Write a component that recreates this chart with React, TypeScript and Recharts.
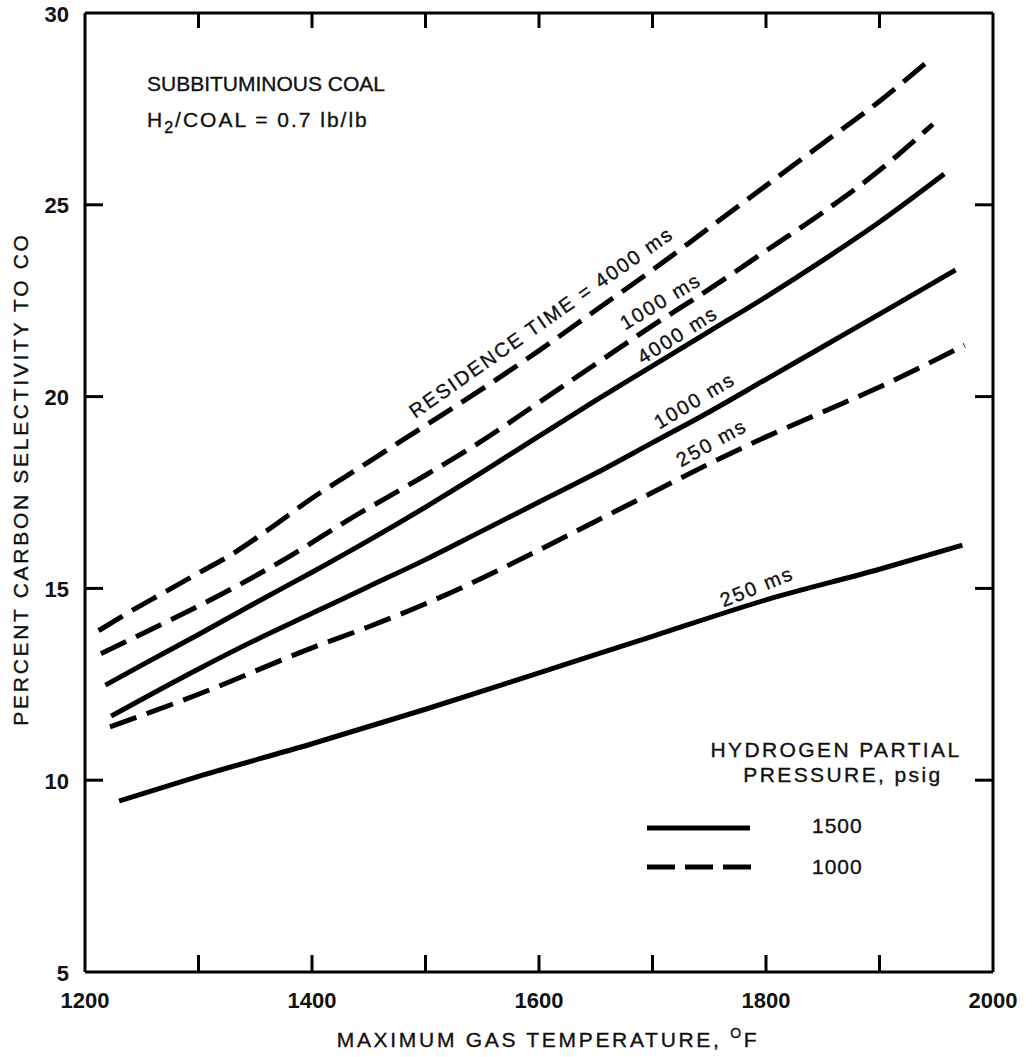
import React from "react";
import { LineChart, Line, XAxis, YAxis, ReferenceLine, ReferenceDot } from "recharts";

const W = 1032;
const H = 1057;
const PLOT = { left: 85, right: 993, top: 13, bottom: 972 };
const FONT = "'Liberation Sans', Arial, Helvetica, sans-serif";

const xTicks = [1200, 1300, 1400, 1500, 1600, 1700, 1800, 1900, 2000];
const xTickLabels = [1200, 1400, 1600, 1800, 2000];
const yTicks = [5, 10, 15, 20, 25, 30];

// 1000 psig, residence time 4000 ms (dashed)
const temps1000_4000 = [1212, 1240, 1270, 1300, 1330, 1360, 1400, 1450, 1500, 1550, 1600, 1650, 1700, 1750, 1800, 1850, 1900, 1941];
const sel1000_4000 = [13.9, 14.4, 14.9, 15.4, 15.9, 16.5, 17.35, 18.3, 19.25, 20.2, 21.2, 22.25, 23.3, 24.4, 25.5, 26.6, 27.7, 28.7];

// 1000 psig, 1000 ms (dashed)
const temps1000_1000 = [1214, 1270, 1330, 1381, 1430, 1500, 1550, 1600, 1650, 1700, 1750, 1800, 1850, 1900, 1947];
const sel1000_1000 = [13.3, 14.1, 15.0, 15.85, 16.75, 17.95, 18.85, 19.85, 20.85, 21.85, 22.8, 23.8, 24.8, 25.9, 27.1];

// 1500 psig, 4000 ms (solid)
const temps1500_4000 = [1218, 1250, 1300, 1350, 1400, 1450, 1500, 1550, 1600, 1650, 1700, 1750, 1800, 1850, 1900, 1957];
const sel1500_4000 = [12.48, 13.0, 13.8, 14.62, 15.42, 16.25, 17.12, 18.03, 18.97, 19.9, 20.8, 21.7, 22.6, 23.55, 24.55, 25.8];

// 1500 psig, 1000 ms (solid)
const temps1500_1000 = [1223, 1300, 1350, 1400, 1450, 1500, 1550, 1600, 1650, 1700, 1750, 1800, 1850, 1900, 1967];
const sel1500_1000 = [11.67, 12.9, 13.65, 14.35, 15.05, 15.75, 16.5, 17.25, 18.0, 18.8, 19.6, 20.45, 21.3, 22.15, 23.3];

// 1000 psig, 250 ms (dashed)
const temps1000_250 = [1222, 1300, 1400, 1450, 1500, 1550, 1600, 1650, 1700, 1750, 1800, 1850, 1900, 1975];
const sel1000_250 = [11.39, 12.24, 13.45, 14.0, 14.6, 15.27, 16.0, 16.75, 17.5, 18.25, 18.95, 19.6, 20.25, 21.34];

// 1500 psig, 250 ms (solid)
const temps1500_250 = [1230, 1300, 1400, 1500, 1600, 1700, 1800, 1900, 1973];
const sel1500_250 = [9.46, 10.1, 10.95, 11.85, 12.8, 13.75, 14.7, 15.5, 16.13];

const toPoints = (temps: number[], vals: number[]) => temps.map((t, i) => ({ t, v: vals[i] }));

const series = [
  { key: "p1000_4000", data: toPoints(temps1000_4000, sel1000_4000), dashed: true },
  { key: "p1000_1000", data: toPoints(temps1000_1000, sel1000_1000), dashed: true },
  { key: "p1500_4000", data: toPoints(temps1500_4000, sel1500_4000), dashed: false },
  { key: "p1500_1000", data: toPoints(temps1500_1000, sel1500_1000), dashed: false },
  { key: "p1000_250", data: toPoints(temps1000_250, sel1000_250), dashed: true },
  { key: "p1500_250", data: toPoints(temps1500_250, sel1500_250), dashed: false },
];

// curve annotations, anchored in data coordinates
const curveLabels = [
  { text: "RESIDENCE TIME = 4000 ms", t: 1602, v: 21.94, angle: -35 },
  { text: "1000 ms", t: 1707, v: 22.49, angle: -31 },
  { text: "4000 ms", t: 1722, v: 21.61, angle: -32 },
  { text: "1000 ms", t: 1737, v: 19.9, angle: -31 },
  { text: "250 ms", t: 1752, v: 18.8, angle: -29 },
  { text: "250 ms", t: 1792, v: 15.05, angle: -22 },
];

const DASH = "28 11";

function XTick(props: any) {
  const { x, payload } = props;
  const val = payload.value;
  const edge = val === 1200 || val === 2000;
  return (
    <g>
      {!edge && <line x1={x} x2={x} y1={PLOT.bottom} y2={PLOT.bottom - 17} stroke="#000" strokeWidth={3} />}
      {!edge && <line x1={x} x2={x} y1={PLOT.top} y2={PLOT.top + 15} stroke="#000" strokeWidth={3} />}
      {xTickLabels.includes(val) && (
        <text x={x} y={PLOT.bottom + 28} textAnchor="middle" dominantBaseline="central" fontSize={22} fontWeight="bold" fontFamily={FONT} fill="#111">
          {val}
        </text>
      )}
    </g>
  );
}

function YTick(props: any) {
  const { y, payload } = props;
  const val = payload.value;
  const edge = val === 5 || val === 30;
  return (
    <g>
      {!edge && <line x1={PLOT.left} x2={PLOT.left + 18} y1={y} y2={y} stroke="#000" strokeWidth={3} />}
      {!edge && <line x1={PLOT.right} x2={PLOT.right - 18} y1={y} y2={y} stroke="#000" strokeWidth={3} />}
      <text x={PLOT.left - 16} y={y + 1} textAnchor="end" dominantBaseline="central" fontSize={22} fontWeight="bold" fontFamily={FONT} fill="#111">
        {val}
      </text>
    </g>
  );
}

function makeCurveLabel(text: string, angle: number) {
  return (p: any) => {
    const vb = p.viewBox || {};
    const cx = (vb.x ?? 0) + (vb.width ?? 0) / 2;
    const cy = (vb.y ?? 0) + (vb.height ?? 0) / 2;
    return (
      <text
        x={cx}
        y={cy}
        transform={`rotate(${angle} ${cx} ${cy})`}
        textAnchor="middle"
        dominantBaseline="central"
        fontSize={20}
        letterSpacing={2}
        fontFamily={FONT}
        fill="#111"
        stroke="#111"
        strokeWidth={0.35}
      >
        {text}
      </text>
    );
  };
}

export default function App() {
  return (
    <div style={{ position: "absolute", left: 0, top: 0, width: W, height: H, background: "#fff" }}>
      <LineChart width={W} height={H} margin={{ top: PLOT.top, right: W - PLOT.right, bottom: 0, left: 0 }}>
        <XAxis
          type="number"
          dataKey="t"
          domain={[1200, 2000]}
          ticks={xTicks}
          allowDataOverflow
          height={H - PLOT.bottom}
          tickLine={false}
          tickSize={0}
          axisLine={{ stroke: "#000", strokeWidth: 3 }}
          tick={(p: any) => <XTick {...p} />}
          interval={0}
        />
        <YAxis
          type="number"
          domain={[5, 30]}
          ticks={yTicks}
          allowDataOverflow
          width={PLOT.left}
          tickLine={false}
          tickSize={0}
          axisLine={{ stroke: "#000", strokeWidth: 3 }}
          tick={(p: any) => <YTick {...p} />}
          interval={0}
        />
        <ReferenceLine y={30} stroke="#000" strokeWidth={3} />
        <ReferenceLine x={2000} stroke="#000" strokeWidth={3} />
        {series.map((s) => (
          <Line
            key={s.key}
            data={s.data}
            dataKey="v"
            type="monotone"
            stroke="#000"
            strokeWidth={5}
            strokeDasharray={s.dashed ? DASH : undefined}
            strokeLinecap="butt"
            dot={false}
            activeDot={false}
            isAnimationActive={false}
          />
        ))}
        {curveLabels.map((l, i) => (
          <ReferenceDot
            key={i}
            x={l.t}
            y={l.v}
            r={1}
            fill="none"
            stroke="none"
            label={makeCurveLabel(l.text, l.angle)}
          />
        ))}
      </LineChart>

      <svg
        width={W}
        height={H}
        style={{ position: "absolute", left: 0, top: 0, pointerEvents: "none" }}
        fontFamily={FONT}
        fill="#111"
        stroke="#111"
        strokeWidth={0.35}
      >
        <text x={147} y={91} fontSize={21} letterSpacing={0}>SUBBITUMINOUS COAL</text>
        <text x={147} y={127} fontSize={21} letterSpacing={2}>
          H<tspan fontSize={16} dy={6}>2</tspan>
          <tspan dy={-6}>/COAL = 0.7 lb/lb</tspan>
        </text>

        <text x={548} y={1047} textAnchor="middle" fontSize={21} letterSpacing={2.7}>
          MAXIMUM GAS TEMPERATURE, <tspan fontSize={14} dy={-9}>O</tspan>
          <tspan dy={9}>F</tspan>
        </text>
        <text transform="translate(28,479) rotate(-90)" textAnchor="middle" fontSize={21} letterSpacing={2.7}>
          PERCENT CARBON SELECTIVITY TO CO
        </text>

        <text x={836} y={757} textAnchor="middle" fontSize={21} letterSpacing={2.4}>HYDROGEN PARTIAL</text>
        <text x={843} y={782} textAnchor="middle" fontSize={21} letterSpacing={2.4}>PRESSURE, psig</text>
        <line x1={647} x2={750} y1={828} y2={828} stroke="#000" strokeWidth={5} />
        <line x1={647} x2={751} y1={867} y2={867} stroke="#000" strokeWidth={5} strokeDasharray="28 10" />
        <text x={812} y={833} fontSize={21} letterSpacing={1}>1500</text>
        <text x={812} y={874} fontSize={21} letterSpacing={1}>1000</text>
      </svg>
    </div>
  );
}
